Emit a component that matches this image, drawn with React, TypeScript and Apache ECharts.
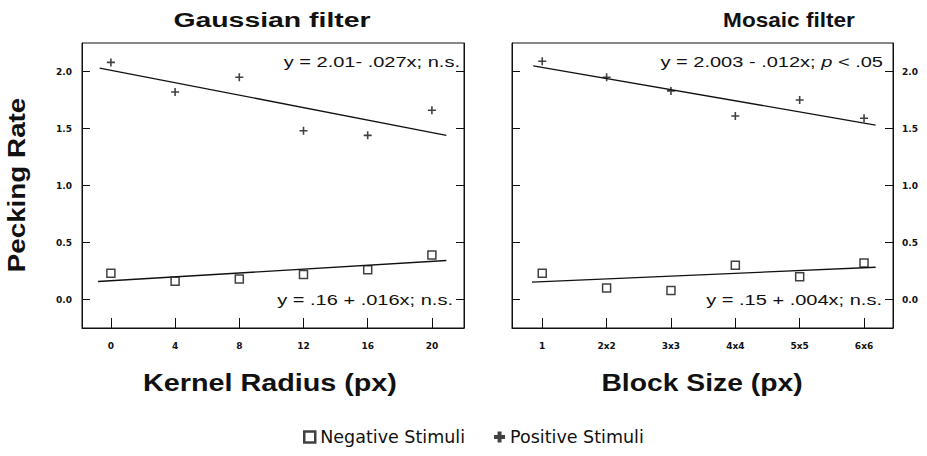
import React, { useEffect, useRef } from "react";
import * as echarts from "echarts";

// ---- data ----
const kernelRadius = [0, 4, 8, 12, 16, 20];
const blockPos = [1, 2, 3, 4, 5, 6];
const blockLabels = ["1", "2x2", "3x3", "4x4", "5x5", "6x6"];
const yTicks = [0, 0.5, 1.0, 1.5, 2.0];

const gaussPositive = [2.08, 1.82, 1.95, 1.48, 1.44, 1.66];
const gaussNegative = [0.23, 0.16, 0.18, 0.22, 0.26, 0.39];
const mosaicPositive = [2.09, 1.95, 1.83, 1.61, 1.75, 1.59];
const mosaicNegative = [0.23, 0.1, 0.08, 0.3, 0.2, 0.32];

const gaussPosFit = [[-0.7, 2.03], [20.9, 1.44]];
const gaussNegFit = [[-0.8, 0.158], [20.9, 0.342]];
const mosaicPosFit = [[0.86, 2.05], [6.18, 1.53]];
const mosaicNegFit = [[0.84, 0.152], [6.18, 0.283]];

const titles = ["Gaussian filter", "Mosaic filter"];
const xNames = ["Kernel Radius (px)", "Block Size (px)"];
const yName = "Pecking Rate";
const equations = [
  "y = 2.01- .027x; n.s.",
  "y = 2.003 - .012x; {i|p} < .05",
  "y = .16 + .016x; n.s.",
  "y = .15 + .004x; n.s.",
];
const legendNames = ["Negative Stimuli", "Positive Stimuli"];

const PLUS = "path://M4,0H6V4H10V6H6V10H4V6H0V4H4Z";
const PLUS_BOLD = "path://M3.2,0H6.8V3.2H10V6.8H6.8V10H3.2V6.8H0V3.2H3.2Z";
const INK = "#111";
const SANS = "'Liberation Sans', Arial, sans-serif";
const TICKFONT = "'DejaVu Sans', sans-serif";

function zip(xs: number[], ys: number[]) {
  return xs.map((x, i) => [x, ys[i]]);
}

export default function App() {
  const ref = useRef<HTMLDivElement>(null);
  useEffect(() => {
    document.body.style.margin = "0";
    if (!ref.current) return;
    const chart = echarts.init(ref.current, null, { renderer: "svg" });

    const tickLabel = {
      fontSize: 9,
      fontWeight: "bold" as const,
      fontFamily: TICKFONT,
      color: INK,
    };
    const mkY = (grid: number, pos: string, labels: boolean) => ({
      type: "value",
      gridIndex: grid,
      position: pos,
      min: -0.25,
      max: 2.25,
      splitLine: { show: false },
      axisLine: { show: true, onZero: false, lineStyle: { color: INK, width: 1 } },
      axisTick: {
        show: true,
        inside: true,
        length: 8,
        customValues: yTicks,
        lineStyle: { color: INK, width: 1 },
      },
      axisLabel: {
        show: labels,
        customValues: yTicks,
        margin: pos === "left" ? 10 : 9,
        formatter: (v: number) => v.toFixed(1),
        ...tickLabel,
      },
    });

    const eqText = (text: string, x: number, y: number) => ({
      type: "text",
      x,
      y,
      scaleX: 1.43,
      style: {
        text,
        fontSize: 14,
        fontFamily: SANS,
        fill: INK,
        align: "right",
        verticalAlign: "middle",
        textAlign: "right",
        textVerticalAlign: "middle",
        rich: {
          i: { fontSize: 14, fontFamily: SANS, fontStyle: "italic", fill: INK },
        },
      },
    });
    const boldText = (
      text: string,
      x: number,
      y: number,
      size: number,
      sx: number,
      rot = 0
    ) => ({
      type: "text",
      x,
      y,
      scaleX: sx,
      rotation: rot,
      style: {
        text,
        fontSize: size,
        fontWeight: "bold",
        fontFamily: SANS,
        fill: INK,
        align: "center",
        verticalAlign: "middle",
        textAlign: "center",
        textVerticalAlign: "middle",
      },
    });

    const sqStyle = { color: "#fff", borderColor: INK, borderWidth: 1.5 };
    const plusStyle = { color: INK };
    const fitStyle = { color: INK, width: 1.3 };

    chart.setOption({
      animation: false,
      backgroundColor: "#fff",
      grid: [
        { left: 82, top: 43, width: 382, height: 285, show: true, borderColor: INK, borderWidth: 1, backgroundColor: "transparent" },
        { left: 512, top: 43, width: 381, height: 285, show: true, borderColor: INK, borderWidth: 1, backgroundColor: "transparent" },
      ],
      xAxis: [
        {
          type: "value",
          gridIndex: 0,
          min: -1.8,
          max: 22,
          splitLine: { show: false },
          axisLine: { show: true, onZero: false, lineStyle: { color: INK } },
          axisTick: { show: true, inside: true, length: 10, customValues: kernelRadius, lineStyle: { color: INK } },
          axisLabel: { customValues: kernelRadius, margin: 13, ...tickLabel },
        },
        {
          type: "value",
          gridIndex: 1,
          min: 0.53,
          max: 6.45,
          splitLine: { show: false },
          axisLine: { show: true, onZero: false, lineStyle: { color: INK } },
          axisTick: { show: true, inside: true, length: 10, customValues: blockPos, lineStyle: { color: INK } },
          axisLabel: {
            customValues: blockPos,
            margin: 13,
            formatter: (v: number) => blockLabels[Math.round(v) - 1] ?? "",
            ...tickLabel,
          },
        },
      ],
      yAxis: [mkY(0, "left", true), mkY(0, "right", false), mkY(1, "left", false), mkY(1, "right", true)],
      legend: {
        left: 298,
        top: 423,
        itemWidth: 11,
        itemHeight: 11,
        itemGap: 29,
        selectedMode: false,
        textStyle: { fontSize: 17.5, fontFamily: TICKFONT, color: INK },
        data: [
          { name: legendNames[0], icon: "rect", itemStyle: { color: "#fff", borderColor: INK, borderWidth: 2.5 } },
          { name: legendNames[1], icon: PLUS_BOLD, itemStyle: { color: INK, borderWidth: 0 } },
        ],
      },
      series: [
        { name: legendNames[0], type: "scatter", xAxisIndex: 0, yAxisIndex: 0, symbol: "rect", symbolSize: 8, itemStyle: sqStyle, data: zip(kernelRadius, gaussNegative) },
        { name: legendNames[1], type: "scatter", xAxisIndex: 0, yAxisIndex: 0, symbol: PLUS, symbolSize: 8, itemStyle: plusStyle, data: zip(kernelRadius, gaussPositive) },
        { name: legendNames[0], type: "scatter", xAxisIndex: 1, yAxisIndex: 2, symbol: "rect", symbolSize: 8, itemStyle: sqStyle, data: zip(blockPos, mosaicNegative) },
        { name: legendNames[1], type: "scatter", xAxisIndex: 1, yAxisIndex: 2, symbol: PLUS, symbolSize: 8, itemStyle: plusStyle, data: zip(blockPos, mosaicPositive) },
        { type: "line", xAxisIndex: 0, yAxisIndex: 0, symbol: "none", lineStyle: fitStyle, data: gaussPosFit, z: 1 },
        { type: "line", xAxisIndex: 0, yAxisIndex: 0, symbol: "none", lineStyle: fitStyle, data: gaussNegFit, z: 1 },
        { type: "line", xAxisIndex: 1, yAxisIndex: 2, symbol: "none", lineStyle: fitStyle, data: mosaicPosFit, z: 1 },
        { type: "line", xAxisIndex: 1, yAxisIndex: 2, symbol: "none", lineStyle: fitStyle, data: mosaicNegFit, z: 1 },
      ],
      graphic: [
        boldText(titles[0], 272, 20, 20, 1.42),
        boldText(titles[1], 789, 20, 20, 1.13),
        boldText(xNames[0], 270, 383, 23, 1.25),
        boldText(xNames[1], 702, 383, 23, 1.23),
        boldText(yName, 17, 185, 23, 1.21, Math.PI / 2),
        eqText(equations[0], 460, 62),
        eqText(equations[1], 883, 62),
        eqText(equations[2], 453, 300),
        eqText(equations[3], 882, 300),
      ],
    });
    return () => chart.dispose();
  }, []);
  return <div ref={ref} style={{ width: 927, height: 456 }} />;
}
